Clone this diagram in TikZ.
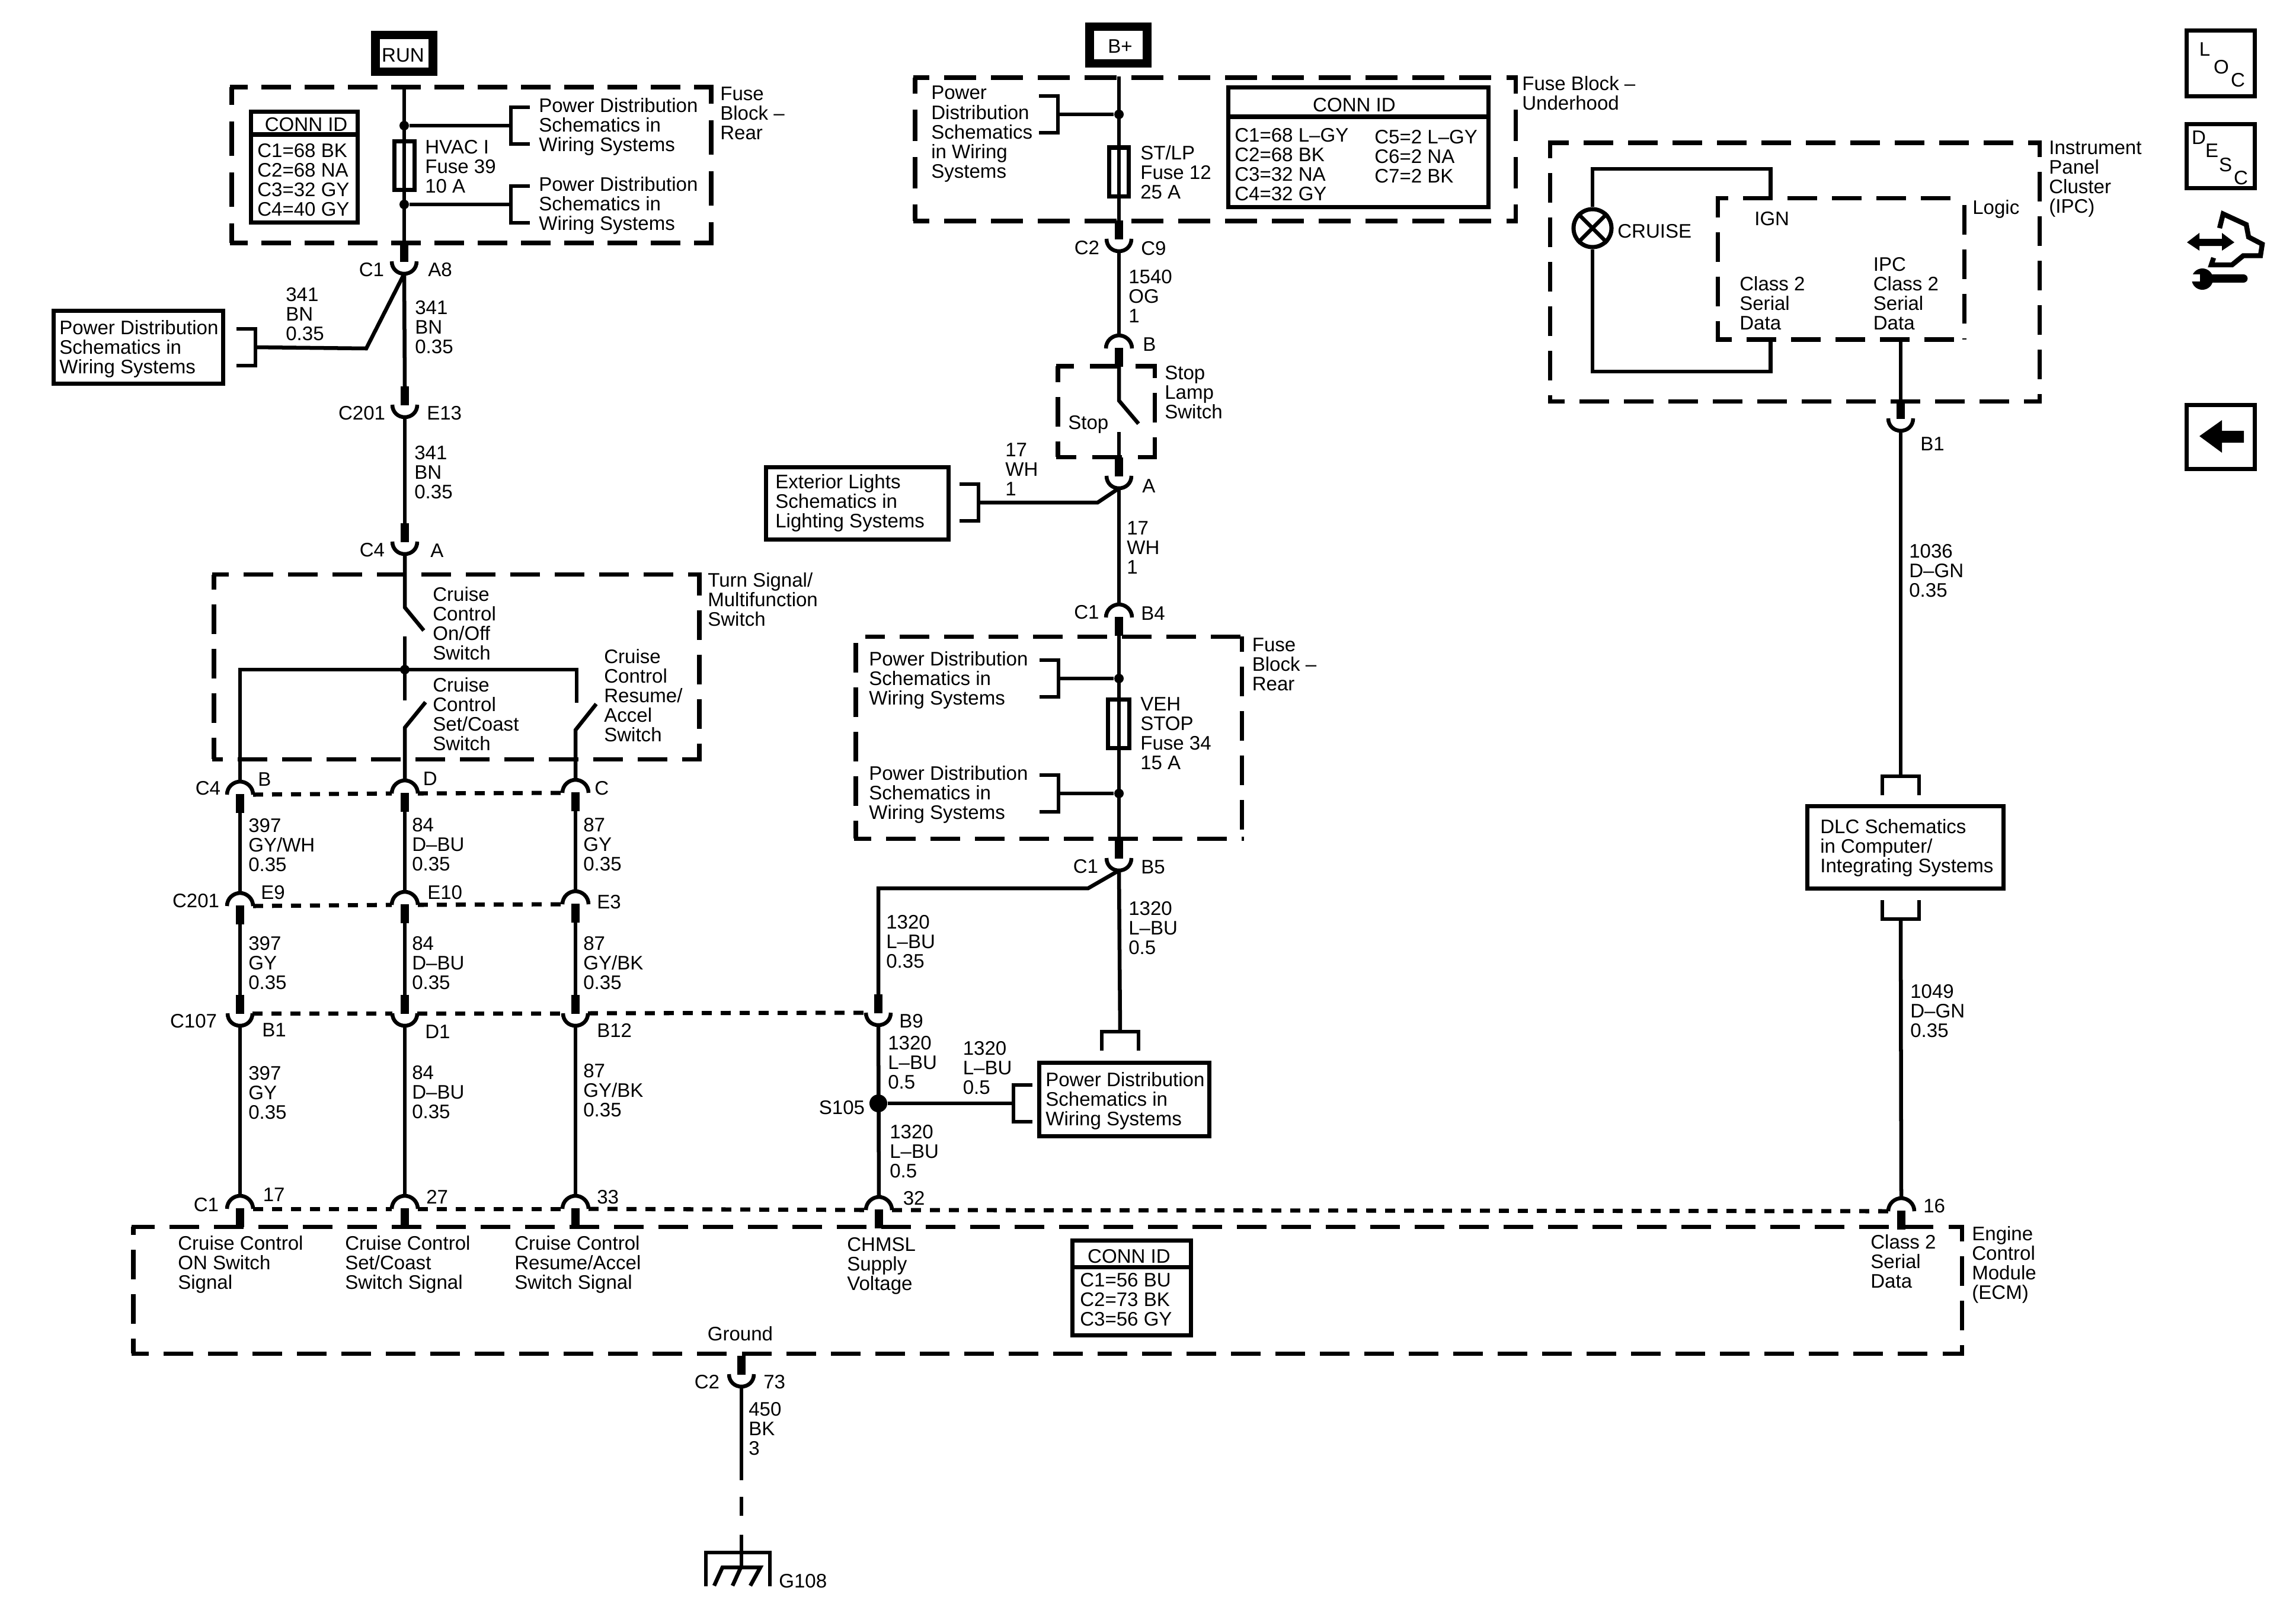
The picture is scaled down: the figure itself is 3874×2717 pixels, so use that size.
\documentclass[tikz,border=0pt]{standalone}
\usepackage{fontspec}
\setmainfont{Liberation Sans}
\tikzset{
  wire/.style={line width=1.85pt},
  outln/.style={line width=2pt},
  stubln/.style={line width=3.9pt},
  dotrow/.style={line width=2pt, dash pattern=on 4.8pt off 4.3pt},
  lbl/.style={font=\fontsize{9.4}{9.4}\selectfont, inner sep=0pt, align=left, anchor=west, xshift=-0.4pt, yshift=-0.6pt,
    execute at begin node=\rule{0pt}{8pt}, execute at end node=\rule[-1.3pt]{0pt}{1.3pt}},
  lblr/.style={lbl, align=right, anchor=east, xshift=0.9pt},
  lblc/.style={lbl, align=center, anchor=center, xshift=0.4pt},
  pwrbox/.style={draw, line width=4.2pt, minimum width=0.97cm, minimum height=0.62cm},
  fusebox/.style={draw, outln, inner sep=0pt, minimum height=0.82cm},
  framebox/.style={draw, outln, inner sep=0pt},
  splice/.style={circle, fill=black, inner sep=0pt, minimum size=0.16cm},
  cupconn/.pic={
    \draw[wire] (-21,0) .. controls (-21,13) and (-11,21) .. (0,21) .. controls (11,21) and (21,13) .. (21,0);
    \draw[stubln] (0,-31) -- (0,1);
    \coordinate (-pin) at (0,21);
    \coordinate (-end) at (0,-31);
    \coordinate (-lf) at (-21,0);
    \coordinate (-rt) at (21,0);
  },
  capconn/.pic={
    \draw[wire] (-22,0) .. controls (-22,-13) and (-11,-22) .. (0,-22) .. controls (11,-22) and (22,-13) .. (22,0);
    \draw[stubln] (0,-1) -- (0,31);
    \coordinate (-pin) at (0,-22);
    \coordinate (-end) at (0,31);
    \coordinate (-lf) at (-22,0);
    \coordinate (-rt) at (22,0);
  },
  brk/.pic={
    \draw[wire] (-32,-31) -- (0,-31) -- (0,31) -- (-32,31);
    \coordinate (-mid) at (0,0);
  }
}

\begin{document}
\begin{tikzpicture}[x=0.01cm, y=-0.01cm]
\useasboundingbox (0,0) rectangle (3874,2717);

% Connectors
\foreach \nm/\x/\y in {cupA8/682/441, cupE13/683/683, cupA4/683/914, cupC9/1888/403, cupA/1888/803,
    cupB5/1888/1448, cupB9/1482/1709, cupB1/405/1710, cupD1/683/1710, cupB12/971/1710,
    cupIpc/3207/706, cupGnd/1251/2319} {
  \pic (\nm) at (\x,\y) {cupconn};
}
\foreach \nm/\x/\y in {capStop/1888/588, capB4/1888/1042, capB/405/1341, capD/683/1339, capC/971/1338,
    capE9/405/1529, capE10/683/1527, capE3/971/1526, cap17/405/2040, cap27/683/2040, cap33/971/2040,
    cap32/1483/2042, cap16/3208/2044} {
  \pic (\nm) at (\x,\y) {capconn};
}

% Dashed housings, one side at a time: start, end, first dash, dash, gap
\foreach \xa/\ya/\xb/\yb/\lead/\dd/\gg in {
    387.5/147/1203.5/147/30.5/50/23, 387.5/410/1203.5/410/30.5/50/23, 391/147/391/410/30/58/28, 1200/147/1200/410/28/58/28,
    1540.5/131/2560.5/131/27.5/54/25, 1540.5/373/2560.5/373/27.5/54/25, 1544/131/1544/373/27/53/27, 2557/131/2557/373/27/53/27,
    2611.5/241/3444.5/241/35.5/50/25, 2611.5/677/3444.5/677/28.5/50/25, 2615/241/2615/677/26/50/25, 3441/241/3441/677/24/50/25,
    2894.5/334.5/3302/334.5/21.5/50/25, 2894.5/573/3308/573/27.5/50/25, 2898/334.5/2898/573/32/50/25, 3314/334.5/3314/573/-14/50/25,
    357.5/969.5/1183.5/969.5/28.5/50/25, 357.5/1281/1183.5/1281/18.5/50/25, 361/969.5/361/1281/25/50/25, 1180/969.5/1180/1281/35/50/25,
    1781.5/618/1951.5/618/30.5/50/27, 1781.5/771/1951.5/771/34.5/50/27, 1785/618/1785/771/27/50/25, 1948/618/1948/771/20/50/25,
    1460/1074/2098.5/1074/33/50/25, 1440.5/1415/2098.5/1415/29.5/50/25, 1444/1085/1444/1415/50/50/25, 2095/1074/2095/1415/26/50/25,
    221.5/2070/3313.5/2070/39.5/50/25, 221.5/2284/3313.5/2284/29.5/50/25, 225/2070/225/2284/14/50/25, 3310/2070/3310/2284/25/50/25} {
  \pgfmathsetmacro\ph{(\dd-\lead)*0.2845}
  \pgfmathsetmacro\dlen{\dd*0.2845}
  \pgfmathsetmacro\glen{\gg*0.2845}
  \draw[line width=2pt, dash pattern=on \dlen pt off \glen pt, dash phase=\ph pt] (\xa,\ya) -- (\xb,\yb);
}

% Supply boxes
\node[pwrbox] (boxRun) at (682,90) {};
\node[pwrbox] (boxBatt) at (1887,76) {};
\node[lblc] (txtRun) at (680,91) {RUN};
\node[lblc] (txtBatt) at (1890,76) {B+};

% Fuses and splices
\node[fusebox, minimum width=0.34cm] (fuseHvac) at (682.5,279.5) {};
\node[fusebox, minimum width=0.33cm] (fuseStlp) at (1888,290) {};
\node[fusebox, minimum width=0.36cm] (fuseVeh) at (1887.5,1221.5) {};
\foreach \nm/\x/\y in {jHvacA/682/212, jHvacB/682/345, jStlp/1888/193, jVehA/1888/1145, jVehB/1888/1339, jBus/683/1130} {
  \node[splice] (\nm) at (\x,\y) {};
}
\node[splice, minimum size=0.3cm] (jS105) at (1482,1862) {};

% Brackets
\foreach \nm/\x/\y in {brkPdC/431/586, brkExt/1651/848, brkStlp/1785/193, brkVehA/1786/1145, brkVehB/1786/1339} {
  \pic (\nm) at (\x,\y) {brk};
}
\pic[xscale=-1] (brkHvacA) at (862,212) {brk};
\pic[xscale=-1] (brkHvacB) at (862,345) {brk};
\pic[xscale=-1] (brkS105) at (1710,1862) {brk};
\pic[rotate=90] (brkPdTop) at (1890,1741) {brk};
\pic[rotate=90] (brkDlcTop) at (3207,1310) {brk};
\pic[rotate=-90] (brkDlcLow) at (3207,1551) {brk};

% Free wire ends
\coordinate (runTop) at (682,144);
\coordinate (battTop) at (1888,129);
\coordinate (kinkA8) at (618,588);
\coordinate (kinkExt) at (1852,848);
\coordinate (kinkB5a) at (1836,1499);
\coordinate (kinkB5b) at (1482,1499);
\coordinate (swOnHinge) at (683,1025);
\coordinate (swOnTip) at (715,1064);
\coordinate (swOnLow) at (683,1074);
\coordinate (swSetUp) at (683,1182);
\coordinate (swSetTip) at (718,1185);
\coordinate (swSetHinge) at (683,1228);
\coordinate (busLeft) at (405,1130);
\coordinate (busRight) at (973,1130);
\coordinate (swResUp) at (973,1186);
\coordinate (swResTip) at (1006,1188);
\coordinate (swResHinge) at (971,1232);
\coordinate (swStopHinge) at (1888,676);
\coordinate (swStopTip) at (1921,715);
\coordinate (swStopLow) at (1888,729);
\coordinate (ipcIgn) at (2987.5,334.5);
\coordinate (ipcData) at (2987.5,573);
\coordinate (ipcOut) at (3207,573);
\coordinate (ipcUpA) at (2687,285);
\coordinate (ipcUpB) at (2987.5,285);
\coordinate (ipcLowA) at (2687,627);
\coordinate (ipcLowB) at (2987.5,627);
\coordinate (gndEnd) at (1251,2498);

% Wires, left column
\draw[wire] (runTop) -- (cupA8-end);
\draw[wire] (jHvacA) -- (brkHvacA-mid);
\draw[wire] (jHvacB) -- (brkHvacB-mid);
\draw[wire] (cupA8-pin) -- (cupE13-end);
\draw[wire] (cupA8-pin) -- (kinkA8) -- (brkPdC-mid);
\draw[wire] (cupE13-pin) -- (cupA4-end);
\draw[wire] (cupA4-pin) -- (swOnHinge) -- (swOnTip);
\draw[wire] (swOnLow) -- (swSetUp);
\draw[wire] (capB-pin) -- (busLeft) -- (busRight) -- (swResUp);
\draw[wire] (swSetTip) -- (swSetHinge) -- (capD-pin);
\draw[wire] (swResTip) -- (swResHinge) -- (capC-pin);
\foreach \a/\b/\c/\d in {capB/capE9/cupB1/cap17, capD/capE10/cupD1/cap27, capC/capE3/cupB12/cap33} {
  \draw[wire] (\a-end) -- (\b-pin);
  \draw[wire] (\b-end) -- (\c-end);
  \draw[wire] (\c-pin) -- (\d-pin);
}

% Wires, middle column
\draw[wire] (battTop) -- (cupC9-end);
\draw[wire] (jStlp) -- (brkStlp-mid);
\draw[wire] (cupC9-pin) -- (capStop-pin);
\draw[wire] (capStop-end) -- (swStopHinge) -- (swStopTip);
\draw[wire] (swStopLow) -- (cupA-end);
\draw[wire] (cupA-pin) -- (capB4-pin);
\draw[wire] (cupA-pin) -- (kinkExt) -- (brkExt-mid);
\draw[wire] (capB4-end) -- (cupB5-end);
\draw[wire] (jVehA) -- (brkVehA-mid);
\draw[wire] (jVehB) -- (brkVehB-mid);
\draw[wire] (cupB5-pin) -- (brkPdTop-mid);
\draw[wire] (cupB5-pin) -- (kinkB5a) -- (kinkB5b) -- (cupB9-end);
\draw[wire] (cupB9-pin) -- (cap32-pin);
\draw[wire] (jS105) -- (brkS105-mid);

% Wires, right column
\node[draw, outln, circle, inner sep=0pt, minimum size=0.64cm] (lampCruise) at (2687,385) {};
\draw[wire] (lampCruise.45) -- (lampCruise.225);
\draw[wire] (lampCruise.135) -- (lampCruise.315);
\draw[wire] (lampCruise.north) -- (ipcUpA) -- (ipcUpB) -- (ipcIgn);
\draw[wire] (lampCruise.south) -- (ipcLowA) -- (ipcLowB) -- (ipcData);
\draw[wire] (ipcOut) -- (cupIpc-end);
\draw[wire] (cupIpc-pin) -- (brkDlcTop-mid);
\draw[wire] (brkDlcLow-mid) -- (cap16-pin);

% Dashed rows between connectors
\foreach \a/\b in {capB/capD, capD/capC, capE9/capE10, capE10/capE3, cupB1/cupD1, cupD1/cupB12, cupB12/cupB9,
    cap17/cap27, cap27/cap33, cap33/cap32, cap32/cap16} {
  \draw[dotrow] (\a-rt) -- (\b-lf);
}

% Ground
\coordinate (gndDashA) at (1251,2526);
\coordinate (gndDashB) at (1251,2558);
\coordinate (gndDashC) at (1251,2590);
\coordinate (gndBar) at (1251,2645);
\draw[wire] (cupGnd-pin) -- (gndEnd);
\draw[wire] (gndDashA) -- (gndDashB);
\draw[wire] (gndDashC) -- (gndBar);
\draw[wire] (1191,2677) -- (1191,2620) -- (1299,2620) -- (1299,2677);
\draw[wire] (1205,2676) -- (1219,2645) -- (1283,2645) -- (1266,2676);
\draw[wire] (1236,2676) -- (1250,2645);

% Reference boxes
\node[framebox, minimum width=2.86cm, minimum height=1.23cm] (boxPdC) at (233.5,586) {};
\node[framebox, minimum width=3.08cm, minimum height=1.22cm] (boxExt) at (1446.5,849.5) {};
\node[framebox, minimum width=2.87cm, minimum height=1.24cm] (boxPdF) at (1897,1855.5) {};
\node[framebox, minimum width=3.31cm, minimum height=1.38cm] (boxDlc) at (3215,1430) {};

% Connector id boxes
\node[framebox, minimum width=1.79cm, minimum height=1.86cm] (idRear) at (513.5,282) {};
\node[framebox, minimum width=4.38cm, minimum height=2.01cm] (idHood) at (2292,248.5) {};
\node[framebox, minimum width=2cm, minimum height=1.6cm] (idEcm) at (1909.5,2173.5) {};
\draw[outln] (idRear.west |- 0,227) -- (idRear.east |- 0,227);
\draw[outln] (idHood.west |- 0,197) -- (idHood.east |- 0,197);
\draw[outln] (idEcm.west |- 0,2138) -- (idEcm.east |- 0,2138);
\foreach \nm/\x/\y in {idRearT/516.6/208, idHoodT/2285/175, idEcmT/1905/2118} {
  \node[lblc] (\nm) at (\x,\y) {CONN ID};
}

% Labels to the right of a point
\foreach \nm/\x/\y/\txt in {
    tRear/1216/191/{Fuse\\Block –\\Rear},
    tPdA/910/212/{Power Distribution\\Schematics in\\Wiring Systems},
    tPdB/910/345/{Power Distribution\\Schematics in\\Wiring Systems},
    tPdC/101/587/{Power Distribution\\Schematics in\\Wiring Systems},
    tHvac/718/281/{HVAC I\\Fuse 39\\10 A},
    tIdA/435/304/{C1=68 BK\\C2=68 NA\\C3=32 GY\\C4=40 GY},
    tA8/723/453/{A8}, tE13/721/695/{E13}, tA4/727/927/{A},
    wA/483/530/{341\\BN\\0.35}, wB/701/552/{341\\BN\\0.35}, wC/700/797/{341\\BN\\0.35},
    tTurn/1195/1012/{Turn Signal/\\Multifunction\\Switch},
    tSwOn/731/1052/{Cruise\\Control\\On/Off\\Switch},
    tSwSet/731/1205/{Cruise\\Control\\Set/Coast\\Switch},
    tSwRes/1020/1174/{Cruise\\Control\\Resume/\\Accel\\Switch},
    tB/436/1313/{B}, tD/714.5/1312/{D}, tC/1004/1328/{C},
    wD/420/1426/{397\\GY/WH\\0.35}, wE/696/1425/{84\\D–BU\\0.35}, wF/985/1425/{87\\GY\\0.35},
    tE9/441/1504/{E9}, tE10/722/1504/{E10}, tE3/1008/1520/{E3},
    wG/420/1625/{397\\GY\\0.35}, wH/696/1625/{84\\D–BU\\0.35}, wI/985/1625/{87\\GY/BK\\0.35},
    tB1/443/1736/{B1}, tD1/718/1739/{D1}, tB12/1008/1737/{B12},
    wJ/420/1844/{397\\GY\\0.35}, wK/696/1843/{84\\D–BU\\0.35}, wL/985/1840/{87\\GY/BK\\0.35},
    t17/444.5/2014/{17}, t27/720/2018/{27}, t33/1008/2018/{33}, t32/1524.5/2020/{32}, t16/3246/2033/{16},
    sA/301/2132/{Cruise Control\\ON Switch\\Signal},
    sB/583/2132/{Cruise Control\\Set/Coast\\Switch Signal},
    sC/869/2132/{Cruise Control\\Resume/Accel\\Switch Signal},
    sD/1430/2134/{CHMSL\\Supply\\Voltage},
    tIdC/1823/2193/{C1=56 BU\\C2=73 BK\\C3=56 GY},
    sE/3157/2129/{Class 2\\Serial\\Data},
    tEcm/3328/2132/{Engine\\Control\\Module\\(ECM)},
    t73/1289/2330/{73}, wM/1264/2411/{450\\BK\\3}, tG108/1315/2666/{G108},
    tPdD/1572/224/{Power\\Distribution\\Schematics\\in Wiring\\Systems},
    tStlp/1925/291/{ST/LP\\Fuse 12\\25 A},
    tIdB/2084/277.6/{C1=68 L–GY\\C2=68 BK\\C3=32 NA\\C4=32 GY},
    tIdB2/2320/264/{C5=2 L–GY\\C6=2 NA\\C7=2 BK},
    tHood/2569/157/{Fuse Block –\\Underhood},
    tC9/1926/417/{C9}, wN/1905/500/{1540\\OG\\1}, tBs/1929/579/{B},
    tStop/1803/712/{Stop}, tStopSw/1966/662/{Stop\\Lamp\\Switch},
    wO/1697/792/{17\\WH\\1}, tAs/1928/818/{A}, wP/1902/924/{17\\WH\\1},
    tExt/1309/847/{Exterior Lights\\Schematics in\\Lighting Systems},
    tB4/1926/1033/{B4}, tRearB/2113.5/1121/{Fuse\\Block –\\Rear},
    tPdE/1467/1146/{Power Distribution\\Schematics in\\Wiring Systems},
    tPdG/1467/1339/{Power Distribution\\Schematics in\\Wiring Systems},
    tVeh/1925/1237.5/{VEH\\STOP\\Fuse 34\\15 A},
    tB5/1926/1461/{B5}, wQ/1905/1566/{1320\\L–BU\\0.5}, wR/1496/1589/{1320\\L–BU\\0.35},
    tB9/1518/1721/{B9}, wS/1499/1793/{1320\\L–BU\\0.5}, wT/1625.5/1802/{1320\\L–BU\\0.5},
    wU/1502/1943/{1320\\L–BU\\0.5},
    tPdF/1765/1856/{Power Distribution\\Schematics in\\Wiring Systems},
    tCruise/2730/388/{CRUISE}, tIgn/2961/367/{IGN}, tLogic/3329/348.5/{Logic},
    tData/2936/512/{Class 2\\Serial\\Data}, tIpcD/3161.5/496/{IPC\\Class 2\\Serial\\Data},
    tIpc/3458/300/{Instrument\\Panel\\Cluster\\(IPC)},
    tB1i/3241/747/{B1}, wV/3222/963/{1036\\D–GN\\0.35},
    tDlc/3072/1428.6/{DLC Schematics\\in Computer/\\Integrating Systems},
    wW/3224/1706/{1049\\D–GN\\0.35}} {
  \node[lbl] (\nm) at (\x,\y) {\txt};
}

% Labels to the left of a point
\foreach \nm/\x/\y/\txt in {rC1a/647/453/C1, rC201a/649/695/C201, rC4a/648/926/C4, rC4b/371/1328/C4,
    rC201b/369/1518/C201, rC107/365/1721/C107, rC1b/368/2031/C1, rC2a/1854/416/C2, rC1c/1853.5/1031/C1,
    rC1d/1852/1460/C1, rS105/1458/1867/S105, rC2b/1213/2330/C2} {
  \node[lblr] (\nm) at (\x,\y) {\txt};
}
\node[lblc] (tGround) at (1249,2249) {Ground};

% Navigation icons
\node[framebox, minimum width=1.15cm, minimum height=1.1cm] (navLoc) at (3747,107) {};
\node[framebox, minimum width=1.15cm, minimum height=1.08cm] (navDesc) at (3747,263.5) {};
\node[framebox, minimum width=1.15cm, minimum height=1.08cm] (navBack) at (3747,737.5) {};
\foreach \nm/\x/\y/\txt in {nL/3720/81/L, nO/3748/111/O, nC/3776/133/C, nD/3710/230/D, nE/3732/252/E, nS/3755/276/S, nCc/3781/298/C} {
  \node[lblc] (\nm) at (\x,\y) {\txt};
}
\fill (3711,736) -- (3749,709) -- (3749,727) -- (3786,727) -- (3786,747) -- (3749,747) -- (3749,764) -- cycle;
\fill (3690,409) -- (3711,393) -- (3711,403) -- (3749,403) -- (3749,393) -- (3770,409) -- (3749,423) -- (3749,415) -- (3711,415) -- (3711,423) -- cycle;
\draw[line width=2.4pt] (3745,385) -- (3751,361) -- (3790,379) -- (3794,400) -- (3817,412) -- (3814,431.5) -- (3785,431.5) -- (3766,447) -- (3731,447) -- (3735,435);
\draw[line width=4.2pt, line cap=round] (3722,470) -- (3785,470);
\fill (3716,471) circle (18);
\fill[white] (3696,463) rectangle (3712,475);

\end{tikzpicture}
\end{document}
